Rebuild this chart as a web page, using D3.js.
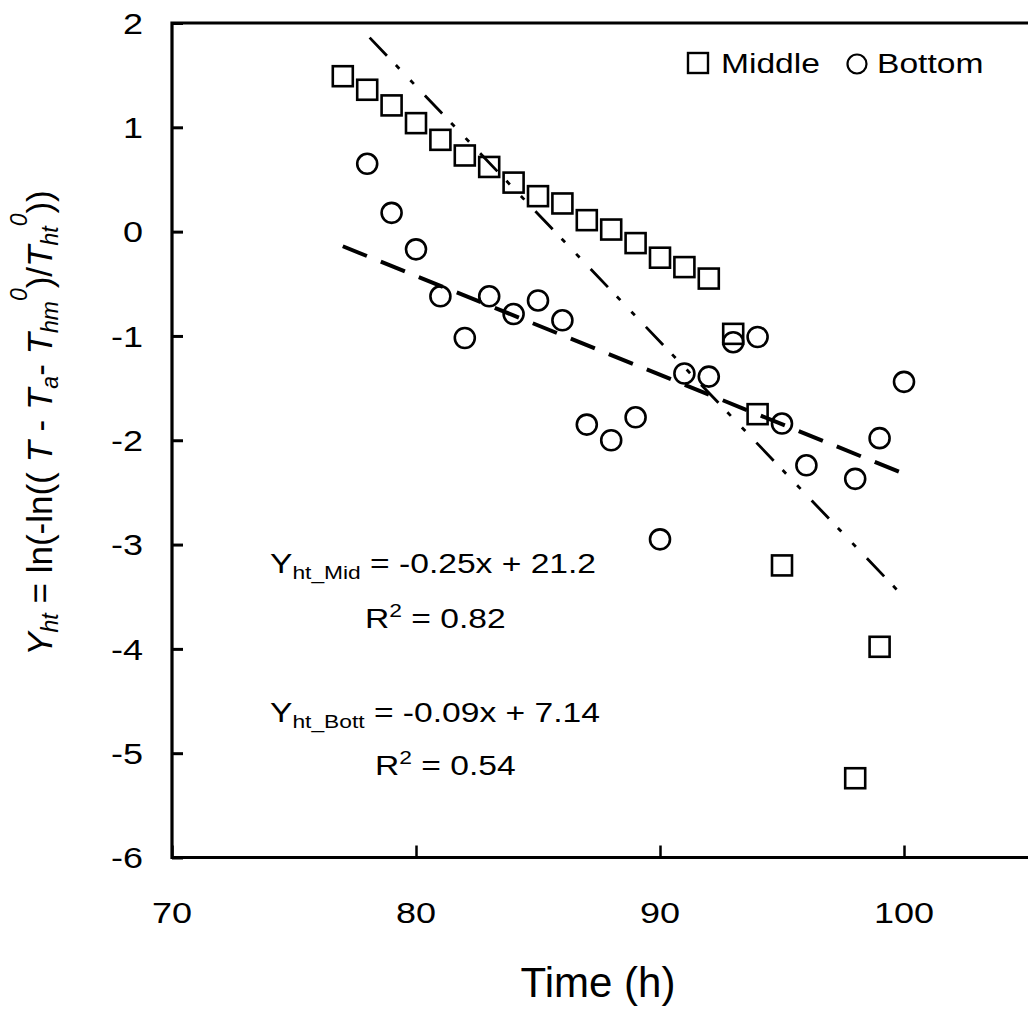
<!DOCTYPE html>
<html>
<head>
<meta charset="utf-8">
<script src="https://cdn.jsdelivr.net/npm/d3@7"></script>
<style>
  html, body { margin: 0; padding: 0; background: #fff; }
  svg { display: block; }
  text { font-family: "Liberation Sans", Arial, Helvetica, sans-serif; fill: #000; white-space: pre; }
</style>
</head>
<body>
<svg id="chart" width="1028" height="1010"></svg>
<script>
// ---------------- data ----------------
const timeMid = [77, 78, 79, 80, 81, 82, 83, 84, 85, 86, 87, 88, 89, 90, 91, 92, 93, 94, 95, 98, 99];
const yMid    = [1.49, 1.36, 1.21, 1.04, 0.88, 0.73, 0.62, 0.47, 0.34, 0.27, 0.11, 0.02, -0.11, -0.25, -0.34, -0.45, -0.98, -1.75, -3.20, -5.24, -3.98];

const timeBott = [78, 79, 80, 81, 82, 83, 84, 85, 86, 87, 88, 89, 90, 91, 92, 93, 94, 95, 96, 98, 99, 100];
const yBott    = [0.65, 0.18, -0.17, -0.62, -1.02, -0.62, -0.79, -0.66, -0.85, -1.85, -2.00, -1.78, -2.95, -1.36, -1.39, -1.06, -1.01, -1.84, -2.24, -2.37, -1.98, -1.44];

// fitted trend lines as drawn (endpoints)
const fitMidX  = [78.1, 99.9];
const fitMidY  = [1.86, -3.48];
const fitBottX = [77.0, 100.2];
const fitBottY = [-0.14, -2.34];

const xTicks = [70, 80, 90, 100];
const yTicks = [2, 1, 0, -1, -2, -3, -4, -5, -6];

const legendLabels = ["Middle", "Bottom"];
const eqMid  = { lead: "Y", sub: "ht_Mid", rest: " = -0.25x + 21.2", r2: "0.82" };
const eqBott = { lead: "Y", sub: "ht_Bott", rest: " = -0.09x + 7.14", r2: "0.54" };
const xTitle = "Time (h)";

// ---------------- layout ----------------
const svg = d3.select("#chart");
const SX = 1.2; // horizontal text stretch of the original figure
const pLeft = 172, pTop = 23, pBottom = 857.5;
const x = d3.scaleLinear().domain([70, 110]).range([pLeft, pLeft + 40 * 24.4]);
const y = d3.scaleLinear().domain([-6, 2]).range([pBottom, pTop]);

function stext(parent, px, py, anchor, size, str, sx = SX) {
  return parent.append("text")
    .attr("transform", `translate(${px},${py}) scale(${sx},1)`)
    .attr("text-anchor", anchor)
    .attr("font-size", size)
    .text(str);
}

// axes (inward ticks)
const gx = svg.append("g").attr("transform", `translate(0,${pBottom})`)
  .call(d3.axisBottom(x).tickValues(xTicks).tickSizeInner(-12).tickSizeOuter(0).tickFormat(""));
gx.select(".domain").remove();
gx.selectAll(".tick line").attr("stroke", "#000").attr("stroke-width", 2.5);

const gy = svg.append("g").attr("transform", `translate(${pLeft},0)`)
  .call(d3.axisLeft(y).tickValues(yTicks).tickSizeInner(-11).tickSizeOuter(0).tickFormat(""));
gy.select(".domain").remove();
gy.selectAll(".tick line").attr("stroke", "#000").attr("stroke-width", 3);

// frame
svg.append("path")
  .attr("d", `M${x(110)},${pTop} L${pLeft},${pTop} L${pLeft},${pBottom} L${x(110)},${pBottom}`)
  .attr("fill", "none").attr("stroke", "#000").attr("stroke-width", 3.2);

// tick labels (plain hyphen minus, as in the original)
yTicks.forEach(v => stext(svg, 143, y(v) + 10.8, "end", 30, String(v)));
xTicks.forEach(v => stext(svg, x(v), 923, "middle", 30, String(v)));

// axis titles
stext(svg, 598, 997, "middle", 42, xTitle, 1);

const yt = svg.append("text")
  .attr("transform", `translate(52,423) rotate(-90)`)
  .attr("text-anchor", "middle")
  .attr("font-size", 35);
const parts = [
  ["Y", "i", 0], ["ht", "i", 1], [" = ln(-ln(( ", "n", 0],
  ["T", "i", 0], [" - ", "n", 0], ["T", "i", 0], ["a", "i", 1], ["- ", "n", 0],
  ["T", "i", 0], ["hm", "i", 1], ["0", "i", 2], [")/", "n", 0],
  ["T", "i", 0], ["ht", "i", 1], ["0", "i", 2], ["))", "n", 0]
];
let cur = 0;
parts.forEach(([s, st, lvl]) => {
  const target = lvl === 1 ? 6 : lvl === 2 ? -25 : 0;
  yt.append("tspan")
    .attr("font-style", st === "i" ? "italic" : "normal")
    .attr("font-size", lvl ? 23 : 35)
    .attr("dy", target - cur)
    .text(s);
  cur = target;
});

// trend lines
const line = d3.line().x(d => x(d[0])).y(d => y(d[1]));
svg.append("path")
  .attr("d", line(d3.zip(fitMidX, fitMidY)))
  .attr("fill", "none").attr("stroke", "#000").attr("stroke-width", 2.8)
  .attr("stroke-dasharray", "25,13,5,16,5,16");
svg.append("path")
  .attr("d", line(d3.zip(fitBottX, fitBottY)))
  .attr("fill", "none").attr("stroke", "#000").attr("stroke-width", 4)
  .attr("stroke-dasharray", "26,15");

// markers
const S = 20;
svg.append("g").selectAll("rect").data(d3.zip(timeMid, yMid)).join("rect")
  .attr("x", d => x(d[0]) - S / 2).attr("y", d => y(d[1]) - S / 2)
  .attr("width", S).attr("height", S)
  .attr("fill", "none").attr("stroke", "#000").attr("stroke-width", 2.6);
svg.append("g").selectAll("circle").data(d3.zip(timeBott, yBott)).join("circle")
  .attr("cx", d => x(d[0])).attr("cy", d => y(d[1])).attr("r", 10)
  .attr("fill", "none").attr("stroke", "#000").attr("stroke-width", 2.6);

// legend
svg.append("rect").attr("x", 688).attr("y", 53).attr("width", 20).attr("height", 20)
  .attr("fill", "none").attr("stroke", "#000").attr("stroke-width", 2.4);
stext(svg, 721, 73, "start", 28, legendLabels[0]);
svg.append("circle").attr("cx", 857).attr("cy", 64).attr("r", 9.5)
  .attr("fill", "none").attr("stroke", "#000").attr("stroke-width", 2.2);
stext(svg, 877, 73, "start", 28, legendLabels[1]);

// equations
function equation(eq, ex, ey, rx, ry) {
  const t = stext(svg, ex, ey, "start", 28, "");
  t.append("tspan").text(eq.lead);
  t.append("tspan").attr("font-size", 19).attr("dy", 6).text(eq.sub);
  t.append("tspan").attr("dy", -6).text(eq.rest);
  const r = stext(svg, rx, ry, "start", 28, "");
  r.append("tspan").text("R");
  r.append("tspan").attr("font-size", 19).attr("dy", -11).text("2");
  r.append("tspan").attr("dy", 11).text(" = " + eq.r2);
}
equation(eqMid, 270, 573, 365, 628);
equation(eqBott, 270, 722, 375, 775);
</script>
</body>
</html>
